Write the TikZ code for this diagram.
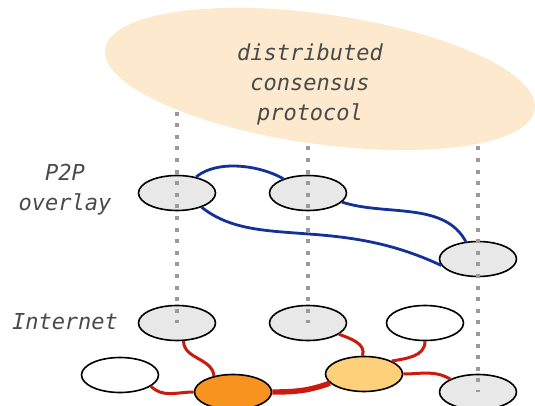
\documentclass[tikz,border=0pt]{standalone}
\usepackage{fontspec}
\setmonofont{DejaVu Sans Mono}
\usetikzlibrary{shapes.geometric}

\definecolor{nodegray}{HTML}{E8E8E8}
\definecolor{hotorange}{HTML}{F7931E}
\definecolor{paleorange}{HTML}{FED07A}
\definecolor{consfill}{HTML}{FCE9CE}
\definecolor{p2pblue}{HTML}{14319A}
\definecolor{netred}{HTML}{CC1A0F}
\definecolor{labelgray}{HTML}{4A4A4A}
\definecolor{guidegray}{HTML}{9A9A9A}

\begin{document}
\begin{tikzpicture}[x=0.5pt, y=0.5pt,
    main/.style = {draw, ellipse, line width=0.8pt, minimum width=38.5pt, minimum height=17.5pt, inner sep=0pt},
    lbl/.style = {text=labelgray, font=\fontsize{11}{15}\selectfont\ttfamily\itshape, align=center},
    p2p/.style = {draw=p2pblue, line width=1.4pt},
    net/.style = {draw=netred, line width=1.5pt},
    guide/.style = {draw=guidegray, line width=1.6pt, dash pattern=on 2pt off 3.8pt}]
    \useasboundingbox (0,0) rectangle (535,-406);

    % P2P overlay
    \node[main, fill=nodegray] (p1) at (177,-193) {};
    \node[main, fill=nodegray] (p2) at (308,-193) {};
    \node[main, fill=nodegray] (p3) at (478,-259) {};

    % Internet
    \node[main, fill=nodegray] (i1) at (177,-323) {};
    \node[main, fill=nodegray] (i2) at (308,-323) {};
    \node[main, fill=white] (i3) at (425,-323) {};
    \node[main, fill=white] (i4) at (120,-375) {};
    \node[main, fill=hotorange] (i5) at (233,-392) {};
    \node[main, fill=paleorange] (i6) at (364,-374) {};
    \node[main, fill=nodegray] (i7) at (478,-392) {};

    \coordinate (t1) at (177,-100);
    \coordinate (t2) at (308,-100);
    \coordinate (t3) at (478,-100);

    \path[guide] (t1) -- (i1.center);
    \path[guide] (t2) -- (i2.center);
    \path[guide] (t3) -- (i7.center);

    \fill[consfill, rotate around={-8:(320,-79)}] (320,-79) ellipse [x radius=108.5pt, y radius=32.5pt];
    \node[lbl] (cons) at (310,-84) {distributed\\consensus\\protocol};

    \node[lbl] (l1) at (65,-190) {P2P\\overlay};
    \node[lbl] (l2) at (65,-322) {Internet};

    \path[p2p] (p1) edge [out=40, in=150, looseness=0.8] (p2);
    \path[p2p] (p2.-15) edge [out=-18, in=118, looseness=0.9] (p3.125);
    \path[p2p] (p1.-30) .. controls (255,-250) and (335,-215) .. (p3.190);

    \path[net] (i1.-70) edge [out=-90, in=95] (i5.140);
    \path[net] (i4.-20) edge [out=-45, in=180] (i5.west);
    \path[net, line width=2.7pt] (i5.east) edge [out=0, in=200] (i6.195);
    \path[net] (i2.-20) edge [out=-20, in=70] (i6.95);
    \path[net] (i3.-90) edge [out=-90, in=10] (i6.25);
    \path[net] (i6.east) edge [out=0, in=150] (i7.155);
\end{tikzpicture}
\end{document}
